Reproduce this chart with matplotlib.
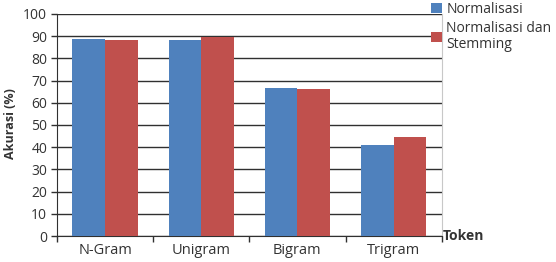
import matplotlib
matplotlib.use("Agg")
import matplotlib.pyplot as plt
import numpy as np

plt.rcParams['font.family'] = ['Open Sans', 'DejaVu Sans']

tokens = ['N-Gram', 'Unigram', 'Bigram', 'Trigram']
normalisasi = [88.6, 88.3, 66.8, 41.0]
norm_stemming = [88.5, 89.5, 66.1, 44.5]
series_names = ['Normalisasi', 'Normalisasi dan\nStemming']
yticks = list(range(0, 101, 10))

blue = '#4F81BD'
red = '#C0504D'
txt = '#333333'

fig = plt.figure(figsize=(5.56, 2.62), dpi=100)
ax = fig.add_axes([57 / 556, 1 - 236 / 262, (441.7 - 57) / 556, (236 - 14) / 262])

x = np.arange(len(tokens))
w = 0.34
b1 = ax.bar(x - w / 2, normalisasi, w, color=blue, zorder=3)
b2 = ax.bar(x + w / 2, norm_stemming, w, color=red, zorder=3)

ax.set_xlim(-0.5, len(tokens) - 0.5)
ax.set_ylim(0, 100)
ax.set_yticks(yticks)
ax.yaxis.grid(True, color='#303030', linewidth=1.0, zorder=0)
ax.set_axisbelow(True)

ax.set_xticks(x)
ax.set_xticklabels(tokens, fontsize=10.5, color=txt)
ax.set_xticks(np.arange(len(tokens) + 1) - 0.5, minor=True)
ax.tick_params(axis='x', which='major', length=0, pad=5)
ax.tick_params(axis='x', which='minor', length=4, width=1, color='#303030', direction='out')
ax.tick_params(axis='y', labelsize=10, length=4, width=1, color='#303030', labelcolor=txt, pad=3)

ax.spines['top'].set_visible(False)
ax.spines['right'].set_color('#c8c8c8')
ax.spines['right'].set_linewidth(0.8)
ax.spines['left'].set_color('#303030')
ax.spines['bottom'].set_color('#303030')

ax.set_ylabel('Akurasi (%)', fontsize=9, fontweight='bold', color=txt)
ax.yaxis.set_label_coords(-0.104, 0.507)
fig.text(443 / 556, 1 - 236 / 262, 'Token', fontsize=10, fontweight='bold',
         color=txt, ha='left', va='center')

leg = ax.legend([b1, b2], series_names, loc='upper left',
                bbox_to_anchor=(431 / 556, 1 - 2 / 262), bbox_transform=fig.transFigure,
                frameon=False, fontsize=10, handlelength=0.8, handleheight=0.75,
                handletextpad=0.3, borderpad=0.0, borderaxespad=0, labelspacing=0.3)
for t in leg.get_texts():
    t.set_color(txt)
    t.set_linespacing(1.1)

fig.savefig('out.png', dpi=100)
